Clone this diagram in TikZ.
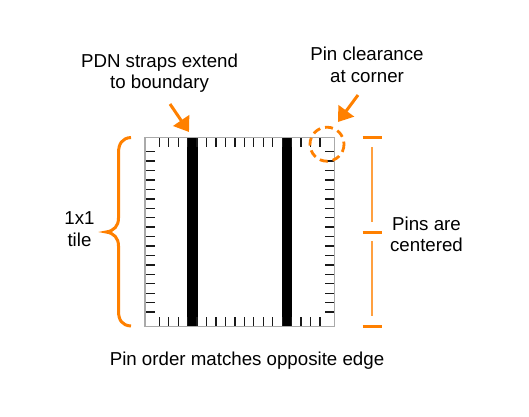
\documentclass[tikz,border=0pt]{standalone}
\usepackage{fontspec}
\setmainfont{Liberation Sans}
\usetikzlibrary{arrows.meta}
\definecolor{pinorange}{HTML}{FF8000}
\definecolor{tilegray}{HTML}{AAAAAA}
\tikzset{
  textlabel/.style={inner sep=0pt,align=center,font=\fontsize{18.7}{21.5}\selectfont},
  pintick/.style={black!90,line width=1.3pt},
  strapbar/.style={fill=black},
  endmark/.style={pinorange,line width=3pt},
  spanline/.style={pinorange!75,line width=1.4pt},
  callout/.style={pinorange,line width=3pt,-{Triangle[length=14pt,width=19pt]}}
}
\begin{document}
\begin{tikzpicture}[>=stealth,x=1pt,y=-1pt]
\useasboundingbox (0,0) rectangle (529,416);
% tile
\draw[strapbar] (187,137.5) rectangle (196.7,326);
\draw[strapbar] (281.7,137.5) rectangle (291,326);
\foreach \k in {0,...,17}{
    \draw[pintick] (159.3+9.45*\k,137.5) -- (159.3+9.45*\k,147);
    \draw[pintick] (159.3+9.45*\k,326) -- (159.3+9.45*\k,316.5);
    \draw[pintick] (145,151.7+9.43*\k) -- (154.5,151.7+9.43*\k);
    \draw[pintick] (334.5,151.7+9.43*\k) -- (325,151.7+9.43*\k);
}
\draw[tilegray,line width=1.5pt] (145,137.5) rectangle (334.5,326.3);
% labels
\node[textlabel] (straps) at (159.5,73.2) {PDN straps extend\\to boundary};
\node[textlabel] (clear) at (367,65) {Pin clearance\\at corner};
\node[textlabel] (tile) at (79.5,229) {1x1\\tile};
\node[textlabel] (centered) at (426.5,234.5) {Pins are\\centered};
\node[textlabel] (order) at (247,361) {Pin order matches opposite edge};
% callouts
\coordinate (strapfrom) at (170,104);
\coordinate (strapto) at (189,132);
\coordinate (clearfrom) at (358,95);
\coordinate (clearto) at (338,122);
\draw[callout] (strapfrom) -- (strapto);
\draw[callout] (clearfrom) -- (clearto);
\draw[pinorange,line width=2.8pt,dash pattern=on 8pt off 5pt] (327,144.2) circle (17);
% brace
\draw[pinorange,line width=3pt] (131,137.5) .. controls (122,138) and (118.5,144) .. (118.5,153)
  -- (118.5,218) .. controls (118.5,226) and (114,231) .. (106,232)
  .. controls (114,233) and (118.5,238) .. (118.5,246)
  -- (118.5,311) .. controls (118.5,320) and (122,325.5) .. (131,326);
% span marks
\foreach \y in {137.5,232,326}{
    \draw[endmark] (362.5,\y) -- (381.5,\y);
}
\coordinate (uppertop) at (372,147);
\coordinate (upperbot) at (372,222);
\coordinate (lowertop) at (372,241);
\coordinate (lowerbot) at (372,316);
\draw[spanline] (uppertop) -- (upperbot);
\draw[spanline] (lowertop) -- (lowerbot);
\end{tikzpicture}
\end{document}
